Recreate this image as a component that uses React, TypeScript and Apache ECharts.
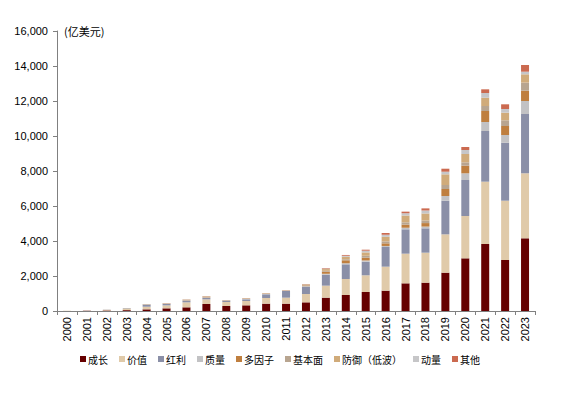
import React, { useEffect, useRef } from "react";
import * as echarts from "echarts";

const years = [
  "2000","2001","2002","2003","2004","2005","2006","2007","2008","2009","2010","2011",
  "2012","2013","2014","2015","2016","2017","2018","2019","2020","2021","2022","2023",
];

const seriesNames = ["成长", "价值", "红利", "质量", "多因子", "基本面", "防御（低波）", "动量", "其他"];
const seriesColors = ["#660000", "#E0CAA9", "#8A8FA7", "#C2C2C4", "#BF7F3F", "#B8A590", "#D0AB7A", "#C6C6C8", "#CB6A50"];

const growth = [5, 15, 30, 50, 95, 152, 210, 400, 286, 324, 419, 419, 495, 762, 914, 1086, 1162, 1581, 1619, 2190, 3010, 3830, 2914, 4154];
const value = [3, 10, 30, 70, 150, 171, 286, 267, 229, 248, 324, 343, 476, 686, 915, 954, 1371, 1695, 1714, 2190, 2420, 3560, 3389, 3716];
const dividend = [1, 3, 10, 25, 115, 76, 95, 76, 76, 95, 210, 381, 419, 628, 838, 777, 1124, 1391, 1391, 1923, 2056, 2896, 3314, 3387];
const quality = [0, 1, 3, 8, 15, 15, 20, 25, 10, 20, 20, 15, 30, 50, 60, 70, 60, 90, 100, 268, 381, 514, 440, 743];
const multiFactor = [0, 0, 2, 5, 8, 10, 15, 20, 8, 15, 15, 12, 40, 120, 170, 160, 150, 180, 200, 400, 438, 630, 514, 590];
const fundamental = [0, 0, 1, 3, 5, 8, 10, 15, 6, 10, 10, 8, 20, 50, 60, 110, 110, 130, 150, 229, 190, 284, 326, 460];
const defensive = [0, 1, 3, 6, 10, 15, 20, 35, 8, 20, 20, 12, 40, 100, 140, 190, 260, 390, 400, 610, 476, 476, 436, 475];
const momentum = [0, 0, 1, 2, 2, 5, 6, 10, 3, 5, 5, 5, 10, 30, 60, 100, 120, 130, 170, 150, 229, 267, 210, 150];
const other = [0, 0, 0, 1, 0, 5, 5, 9, 3, 6, 6, 5, 13, 30, 45, 56, 100, 90, 120, 171, 171, 210, 268, 382];

const seriesData = [growth, value, dividend, quality, multiFactor, fundamental, defensive, momentum, other];

const yMax = 16000;
const yInterval = 2000;

export default function App() {
  const ref = useRef<HTMLDivElement>(null);
  useEffect(() => {
    if (!ref.current) return;
    const chart = echarts.init(ref.current, null, { renderer: "svg" });
    const font = "'Liberation Sans', Arial, 'Noto Sans CJK SC', sans-serif";
    chart.setOption({
      animation: false,
      textStyle: { fontFamily: font },
      grid: { left: 57, right: 26, top: 31, bottom: 86, containLabel: false },
      graphic: [
        {
          type: "text",
          left: 64,
          top: 25,
          style: { text: "(亿美元)", fontSize: 11, fill: "#000", fontFamily: "'Noto Sans CJK SC', sans-serif" },
        },
      ],
      legend: {
        bottom: 28,
        left: 75,
        itemWidth: 6,
        itemHeight: 6,
        itemGap: 11,
        icon: "rect",
        textStyle: { fontSize: 10, color: "#000", fontFamily: "'Noto Sans CJK SC', sans-serif", padding: [0, 0, 0, -3] },
        data: seriesNames,
      },
      xAxis: {
        type: "category",
        data: years,
        axisLine: { show: true, lineStyle: { color: "#808080" } },
        axisTick: { show: true, alignWithLabel: false, length: 4, lineStyle: { color: "#808080" } },
        axisLabel: { rotate: 90, fontSize: 11, color: "#000", margin: 6, interval: 0 },
      },
      yAxis: {
        type: "value",
        min: 0,
        max: yMax,
        interval: yInterval,
        axisLine: { show: true, lineStyle: { color: "#808080" } },
        axisTick: { show: true, length: 4, lineStyle: { color: "#808080" } },
        splitLine: { show: false },
        axisLabel: {
          fontSize: 11,
          color: "#000",
          margin: 9,
          formatter: (v: number) => v.toLocaleString("en-US"),
        },
      },
      series: seriesNames.map((name, i) => ({
        name,
        type: "bar",
        stack: "total",
        barWidth: 8,
        data: seriesData[i],
        itemStyle: { color: seriesColors[i] },
      })),
    });
    return () => chart.dispose();
  }, []);
  return <div ref={ref} style={{ width: 561, height: 397, margin: -8 }} />;
}
